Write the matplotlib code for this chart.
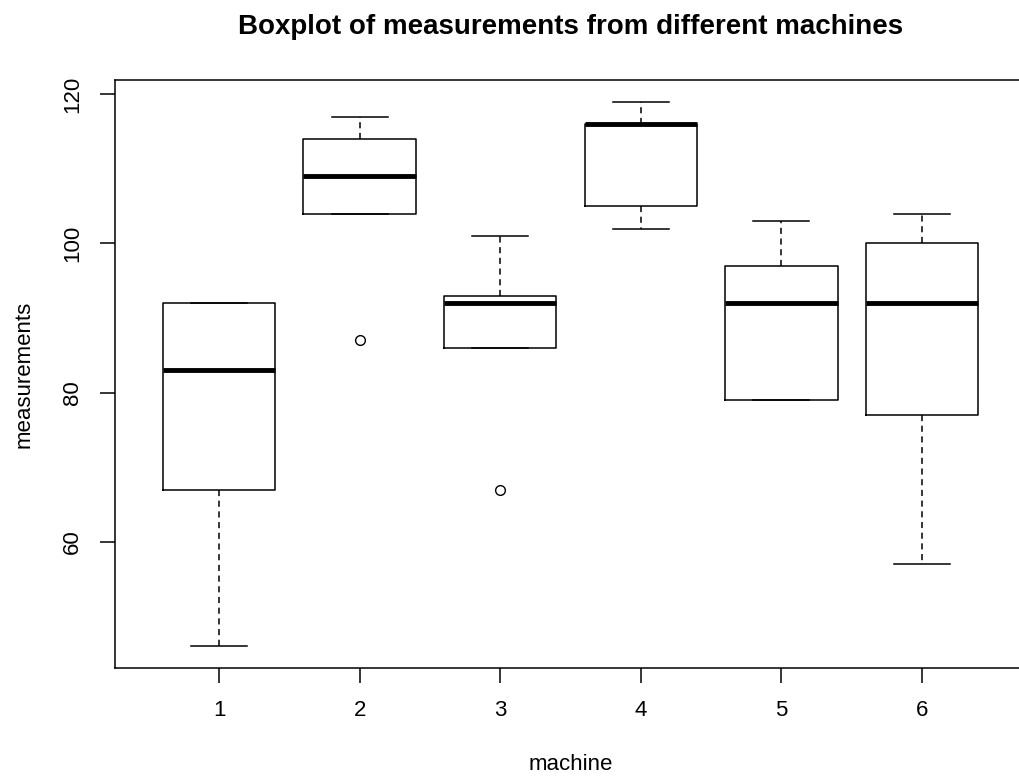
import matplotlib
matplotlib.use("Agg")
import matplotlib.pyplot as plt

plt.rcParams['font.family'] = ['Liberation Sans', 'DejaVu Sans']

# values
machines = [1, 2, 3, 4, 5, 6]
lower_whisker = [46, 104, 86, 102, 79, 57]
q1 = [67, 104, 86, 105, 79, 77]
median = [83, 109, 92, 116, 92, 92]
q3 = [92, 114, 93, 116, 97, 100]
upper_whisker = [92, 117, 101, 119, 103, 104]
outliers = [[], [87], [67], [], [], []]

stats = []
for i in range(len(machines)):
    stats.append({
        'whislo': lower_whisker[i], 'q1': q1[i], 'med': median[i],
        'q3': q3[i], 'whishi': upper_whisker[i], 'fliers': outliers[i],
        'label': str(machines[i]),
    })

fig = plt.figure(figsize=(10.19, 7.76), dpi=100)
ax = fig.add_axes([115 / 1019, 1 - 668 / 776, (1026 - 115) / 1019, (668 - 80) / 776])

ax.bxp(stats, positions=machines, widths=0.8, showfliers=True,
       boxprops=dict(color='black', linewidth=1.1),
       medianprops=dict(color='black', linewidth=3.5, solid_capstyle='butt'),
       whiskerprops=dict(color='black', linewidth=1.1, linestyle=(0, (4, 3))),
       capprops=dict(color='black', linewidth=1.1),
       capwidths=0.4,
       flierprops=dict(marker='o', markerfacecolor='none', markeredgecolor='black',
                       markersize=7, markeredgewidth=1))

ax.set_xlim(0.26, 6.74)
ax.set_ylim(43.08, 121.92)
ax.set_yticks([60, 80, 100, 120])
ax.set_xticks(machines)
ax.set_xticklabels([str(m) for m in machines])
ax.tick_params(axis='both', length=11, width=1.1, labelsize=16, pad=12, colors='black')
plt.setp(ax.get_yticklabels(), rotation=90, va='center')
for s in ax.spines.values():
    s.set_linewidth(1.1)

ax.set_xlabel('machine', fontsize=16, labelpad=24)
ax.set_ylabel('measurements', fontsize=16, labelpad=20)
fig.suptitle('Boxplot of measurements from different machines', fontsize=20,
             fontweight='bold', y=1 - 27 / 776, va='center', x=571 / 1019)

fig.savefig('out.png', dpi=100)
